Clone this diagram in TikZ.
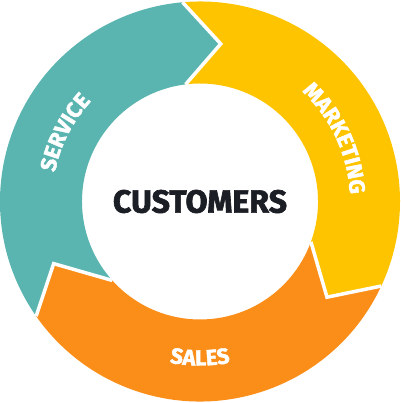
\documentclass[tikz,border=0pt]{standalone}
\usepackage{fontspec}
\newfontfamily\heavyfam{Fira Sans}[BoldFeatures={FakeBold=2}]
\newcommand\heavy{\heavyfam\bfseries}
\usetikzlibrary{decorations.text}
\definecolor{tealc}{HTML}{5AB5B0}
\definecolor{yellowc}{HTML}{FFC400}
\definecolor{orangec}{HTML}{FA8E19}
\definecolor{darkc}{HTML}{1B1E24}
\tikzset{
  gapline/.style={white, line width=3.5pt, line join=miter},
  ringlabel/.style={decorate, decoration={text along path, text align=center, text color=white}}
}
\begin{document}
\begin{tikzpicture}[x=1pt,y=1pt]
\useasboundingbox (0,0) rectangle (400,403);
\begin{scope}[shift={(200,201.5)}]
\def\Ro{200pt}\def\Ri{118pt}\def\Rm{159pt}
\coordinate (Ao) at (95:\Ro);  \coordinate (Ai) at (97:\Ri);  \coordinate (At) at (82.5:\Rm);
\coordinate (Bo) at (-25:\Ro); \coordinate (Bi) at (-20:\Ri); \coordinate (Bt) at (-37:\Rm);
\coordinate (Co) at (215:\Ro); \coordinate (Ci) at (222:\Ri); \coordinate (Ct) at (203:\Rm);
% Service (teal)
\fill[tealc] (Co) arc[start angle=215, end angle=95, radius=\Ro] -- (At) -- (Ai)
  arc[start angle=97, end angle=222, radius=\Ri] -- (Ct) -- cycle;
% Marketing (yellow)
\fill[yellowc] (Ao) arc[start angle=95, end angle=-25, radius=\Ro] -- (Bt) -- (Bi)
  arc[start angle=-20, end angle=97, radius=\Ri] -- (At) -- cycle;
% Sales (orange)
\fill[orangec] (Bo) arc[start angle=-25, end angle=-145, radius=\Ro] -- (Ct) -- (Ci)
  arc[start angle=-138, end angle=-20, radius=\Ri] -- (Bt) -- cycle;
% gaps
\draw[gapline] (Ao) -- (At) -- (Ai);
\draw[gapline] (Bo) -- (Bt) -- (Bi);
\draw[gapline] (Co) -- (Ct) -- (Ci);
% labels
\node[text=darkc, font=\heavy\fontsize{32}{32}\selectfont] (cust) at (0,0) {CUSTOMERS};
\path[ringlabel, decoration={text={|\heavy\fontsize{22}{22}\selectfont|SERVICE}}]
  (193:148pt) arc[start angle=193, end angle=113, radius=148pt];
\path[ringlabel, decoration={text={|\heavy\fontsize{22}{22}\selectfont|MARKETING}}]
  (65:150pt) arc[start angle=65, end angle=-15, radius=150pt];
\path[ringlabel, decoration={text={|\heavy\fontsize{22}{22}\selectfont|SALES}}]
  (240:164pt) arc[start angle=240, end angle=300, radius=164pt];
\end{scope}
\end{tikzpicture}
\end{document}
